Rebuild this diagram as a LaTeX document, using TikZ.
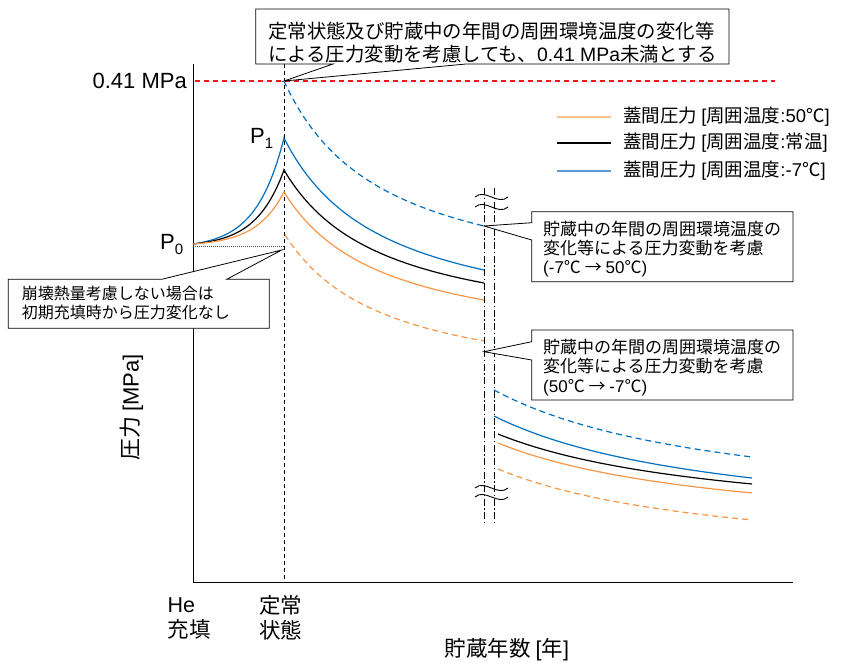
\documentclass[tikz,border=0pt]{standalone}
\usepackage{fontspec}
\setmainfont{Noto Sans CJK JP}
\newfontfamily\lat{Liberation Sans}
\newcommand\la[1]{{\lat #1}}
\definecolor{cblue}{RGB}{0,112,192}
\definecolor{corange}{RGB}{247,150,70}
\definecolor{lblue}{RGB}{91,155,213}
\definecolor{lorange}{RGB}{250,192,143}
\definecolor{limred}{RGB}{238,24,24}
\begin{document}
\begin{tikzpicture}[x=1pt,y=-1pt,
  axis/.style={line width=0.9pt},
  curve/.style={line width=1.2pt},
  dashcurve/.style={line width=1.2pt, dash pattern=on 6pt off 4pt},
  limline/.style={color=limred, line width=1.2pt, dash pattern=on 5pt off 4pt},
  breakline/.style={line width=0.8pt, dash pattern=on 7pt off 2.5pt on 1.5pt off 2.5pt},
  callout/.style={draw, fill=white, line width=0.8pt, line join=miter},
  lbl/.style={inner sep=0pt},
  legline/.style={line width=1.5pt}]
\fill[white] (0,0) rectangle (843,662);
\useasboundingbox (0,0) rectangle (843,662);

% axes
\coordinate (Ytop) at (193,64);
\coordinate (O) at (193,582);
\coordinate (Xend) at (793,582);
\draw[axis] (Ytop) -- (O) -- (Xend);

% steady-state marker and limits
\coordinate (Stop) at (284,64);
\coordinate (Sbot) at (284,582);
\draw[line width=0.8pt, dash pattern=on 4pt off 3pt] (Stop) -- (Sbot);
\coordinate (Rl) at (195,81);
\coordinate (Rr) at (775,81);
\draw[limline] (Rl) -- (Rr);
\coordinate (Dl) at (193,246.5);
\coordinate (Dr) at (284,246.5);
\draw[line width=0.9pt, dash pattern=on 1pt off 1pt, black!70] (Dl) -- (Dr);

% break lines
\coordinate (B1t) at (484,188); \coordinate (B1b) at (484,522);
\coordinate (B2t) at (494,188); \coordinate (B2b) at (494,522);
\draw[breakline] (B1t) -- (B1b);
\draw[breakline] (B2t) -- (B2b);
\foreach \yy in {197,207,488,497}{
  \draw[line width=0.9pt] (475,\yy) .. controls (485,\yy-9) and (498,\yy+9) .. (508,\yy);
}

% curves before the break
\draw[cblue,curve] plot[domain=193:284,samples=50] (\x,{244-4.276*(exp((\x-193)/28)-1)})
  -- plot[domain=284:484,samples=80] (\x,{138+198*((\x-284)/(\x-284+100))});
\draw[black,curve] plot[domain=193:284,samples=50] (\x,{244-2.985*(exp((\x-193)/28)-1)})
  -- plot[domain=284:484,samples=80] (\x,{170+169.5*((\x-284)/(\x-284+100))});
\draw[corange,curve] plot[domain=193:284,samples=50] (\x,{244-2.098*(exp((\x-193)/28)-1)})
  -- plot[domain=284:484,samples=80] (\x,{192+162*((\x-284)/(\x-284+100))});
\draw[cblue,dashcurve] plot[domain=284:484,samples=80] (\x,{81+217.5*((\x-284)/(\x-284+100))});
\draw[corange,dashcurve] plot[domain=285:484,samples=80] (\x,{233+162*((\x-284)/(\x-284+100))});

% curves after the break
\draw[cblue,dashcurve] plot[domain=494:752,samples=60] (\x,{390+129.3*((\x-494)/(\x-494+240))});
\draw[cblue,curve] plot[domain=494:752,samples=60] (\x,{416+119.7*((\x-494)/(\x-494+240))});
\draw[black,curve] plot[domain=498:752,samples=60] (\x,{434+97.2*((\x-498)/(\x-498+240))});
\draw[corange,curve] plot[domain=498:752,samples=60] (\x,{443+97.2*((\x-498)/(\x-498+240))});
\draw[corange,dashcurve] plot[domain=498:752,samples=60] (\x,{469+99.2*((\x-498)/(\x-498+240))});

% legend
\draw[lorange,legline] (557,117) -- (611,117);
\draw[black,legline,line width=1.2pt] (557,143) -- (611,143);
\draw[lblue,legline] (557,171) -- (611,171);
\node[lbl,anchor=west,font=\fontsize{18.5}{18.5}\selectfont] (leg1) at (623,117) {蓋間圧力 \la{[}周囲温度\la{:50}℃\la{]}};
\node[lbl,anchor=west,font=\fontsize{18.5}{18.5}\selectfont] (leg2) at (623,143) {蓋間圧力 \la{[}周囲温度\la{:}常温\la{]}};
\node[lbl,anchor=west,font=\fontsize{18.5}{18.5}\selectfont] (leg3) at (623,171) {蓋間圧力 \la{[}周囲温度\la{:-7}℃\la{]}};

% callouts
\coordinate (tipTop) at (284,81);
\draw[callout] (255.7,9) -- (729,9) -- (729,64) -- (466,64) -- (tipTop) -- (333,64) -- (255.7,64) -- cycle;
\node[lbl,anchor=west,align=left,font=\fontsize{19.4}{23}\selectfont] (ctop) at (268,42.5)
  {定常状態及び貯蔵中の年間の周囲環境温度の変化等\\による圧力変動を考慮しても、\la{0.41 MPa}未満とする};

\coordinate (tipR1) at (484,226);
\draw[callout] (531.7,211.7) -- (793,211.7) -- (793,281.7) -- (531.7,281.7) -- (531.7,240) -- (tipR1) -- (531.7,222.7) -- cycle;
\node[lbl,anchor=west,align=left,font=\fontsize{17}{19.3}\selectfont] (cr1) at (543,249)
  {貯蔵中の年間の周囲環境温度の\\変化等による圧力変動を考慮\\\la{(-7}℃~→~\la{50}℃\la{)}};

\coordinate (tipR2) at (484,351.7);
\draw[callout] (531.7,330) -- (793,330) -- (793,400) -- (531.7,400) -- (531.7,360) -- (tipR2) -- (531.7,341.7) -- cycle;
\node[lbl,anchor=west,align=left,font=\fontsize{17}{19.3}\selectfont] (cr2) at (543,367.5)
  {貯蔵中の年間の周囲環境温度の\\変化等による圧力変動を考慮\\\la{(50}℃~→~\la{-7}℃\la{)}};

\coordinate (tipL) at (281.7,250);
\draw[callout] (8.3,279.3) -- (161.7,279.3) -- (tipL) -- (226.7,279.3) -- (269.3,279.3) -- (269.3,328.3) -- (8.3,328.3) -- cycle;
\node[lbl,anchor=west,align=left,font=\fontsize{16}{19.4}\selectfont] (cl) at (21.7,303)
  {崩壊熱量考慮しない場合は\\初期充填時から圧力変化なし};

% axis labels
\node[lbl,anchor=east,font=\lat\fontsize{22}{22}\selectfont] (lim) at (187,81) {0.41 MPa};
\node[lbl,anchor=base west,font=\lat\fontsize{22}{22}\selectfont] (p0) at (160,249.3) {P\raisebox{-5pt}{\fontsize{15}{15}\selectfont 0}};
\node[lbl,anchor=base west,font=\lat\fontsize{22}{22}\selectfont] (p1) at (250,143.3) {P\raisebox{-5.5pt}{\fontsize{15}{15}\selectfont 1}};
\node[lbl,anchor=west,align=left,font=\fontsize{21.5}{25}\selectfont] (he) at (167.5,618) {\la{He}\\充填};
\node[lbl,anchor=west,align=left,font=\fontsize{21.5}{25}\selectfont] (ss) at (259,617.5) {定常\\状態};
\node[lbl,font=\fontsize{21.5}{21.5}\selectfont] (xl) at (507,650) {貯蔵年数 \la{[}年\la{]}};
\node[lbl,rotate=90,font=\fontsize{22}{22}\selectfont] (yl) at (131.7,407.5) {圧力 \la{[MPa]}};
\end{tikzpicture}
\end{document}
